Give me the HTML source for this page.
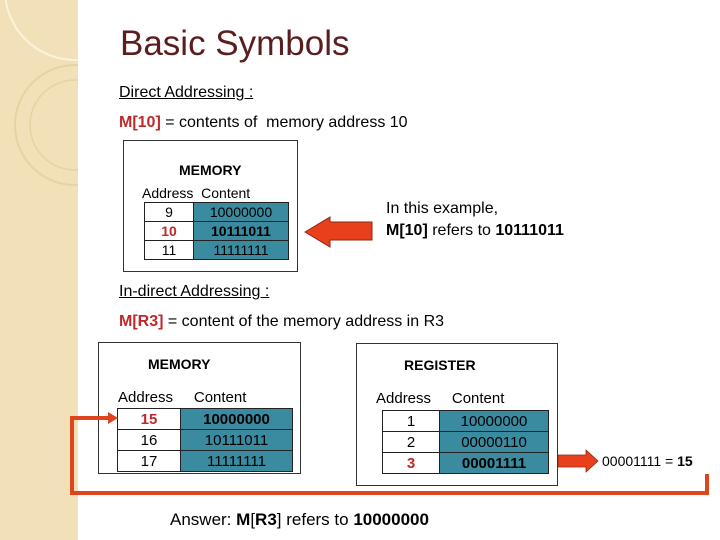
<!DOCTYPE html>
<html><head><meta charset="utf-8"><style>
body{margin:0;width:720px;height:540px;position:relative;overflow:hidden;background:#fff;font-family:"Liberation Sans",sans-serif;}
.a{position:absolute;white-space:nowrap;}
.box{position:absolute;border:1px solid #333;background:#fff;}
table{position:absolute;border-collapse:collapse;font-size:14px;}
td{border:1.5px solid #222;text-align:center;padding:0;}
td.c{background:#3a8aa0;}
.r{color:#c0282c;font-weight:bold;}
b{font-weight:bold;}
</style></head><body>
<div class="a" style="left:0;top:0;width:78px;height:540px;background:#f1e0b8;"></div>
<svg class="a" style="left:0;top:0" width="78" height="540">
<circle cx="75" cy="-10" r="70" fill="none" stroke="#fbf3dd" stroke-width="2"/>
<circle cx="75" cy="125" r="60" fill="none" stroke="#e6d3a2" stroke-width="2"/>
<circle cx="75" cy="125" r="45" fill="none" stroke="#e6d3a2" stroke-width="1.5"/>
</svg>
<div class="a" style="left:120px;top:24px;font-size:35px;color:#5a1e1e;">Basic Symbols</div>
<div class="a" style="left:119px;top:84px;font-size:16px;text-decoration:underline;">Direct Addressing :</div>
<div class="a" style="left:119px;top:114px;font-size:16px;"><b style="color:#c0282c">M[10]</b> = contents of &nbsp;memory address 10</div>
<div class="box" style="left:123px;top:140px;width:173px;height:130px;"></div>
<div class="a" style="left:179px;top:162px;font-size:14px;font-weight:bold;">MEMORY</div>
<div class="a" style="left:142px;top:185px;font-size:14px;">Address &nbsp;Content</div>
<table style="left:144px;top:202px;width:145px;">
<tr style="height:19px"><td style="width:48px">9</td><td class="c">10000000</td></tr>
<tr style="height:19px"><td class="r">10</td><td class="c"><b>10111011</b></td></tr>
<tr style="height:19px"><td>11</td><td class="c">11111111</td></tr>
</table>
<svg class="a" style="left:300px;top:210px" width="80" height="42"><polygon points="5,22 30,7 30,12 72,12 72,30 30,30 30,37" fill="#e8401c" stroke="#8a2a10" stroke-width="1"/></svg>
<div class="a" style="left:386px;top:198px;font-size:16px;line-height:22px;">In this example,<br><b>M[10]</b> refers to <b>10111011</b></div>
<div class="a" style="left:119px;top:283px;font-size:16px;text-decoration:underline;">In-direct Addressing :</div>
<div class="a" style="left:119px;top:313px;font-size:16px;"><b style="color:#c0282c">M[R3]</b> = content of the memory address in R3</div>
<div class="box" style="left:98px;top:342px;width:201px;height:130px;"></div>
<div class="a" style="left:148px;top:356px;font-size:14px;font-weight:bold;">MEMORY</div>
<div class="a" style="left:118px;top:389px;font-size:15px;">Address &nbsp;&nbsp;&nbsp;&nbsp;Content</div>
<table style="left:117px;top:408px;width:176px;font-size:15px;">
<tr style="height:21px"><td style="width:62px" class="r">15</td><td class="c"><b>10000000</b></td></tr>
<tr style="height:21px"><td>16</td><td class="c">10111011</td></tr>
<tr style="height:21px"><td>17</td><td class="c">11111111</td></tr>
</table>
<div class="box" style="left:356px;top:343px;width:200px;height:141px;"></div>
<div class="a" style="left:404px;top:357px;font-size:14px;font-weight:bold;">REGISTER</div>
<div class="a" style="left:376px;top:390px;font-size:15px;">Address &nbsp;&nbsp;&nbsp;&nbsp;Content</div>
<table style="left:382px;top:410px;width:167px;font-size:15px;">
<tr style="height:21px"><td style="width:56px">1</td><td class="c">10000000</td></tr>
<tr style="height:21px"><td>2</td><td class="c">00000110</td></tr>
<tr style="height:21px"><td class="r">3</td><td class="c"><b>00001111</b></td></tr>
</table>
<svg class="a" style="left:0;top:0" width="720" height="540">
<polygon points="558,455 586,455 586,450 598,461 586,472 586,467 558,467" fill="#e8401c" stroke="#8a2a10" stroke-width="0.8"/>
<polyline points="707,474 707,493 72,493 72,418 108,418" fill="none" stroke="#e0441c" stroke-width="4"/>
<polygon points="108,412 118,418 108,424" fill="#e0441c"/>
</svg>
<div class="a" style="left:602px;top:453px;font-size:14px;">00001111 = <b>15</b></div>
<div class="a" style="left:170px;top:510px;font-size:17px;">Answer: <b>M</b>[<b>R3</b>] refers to <b>10000000</b></div>
</body></html>
